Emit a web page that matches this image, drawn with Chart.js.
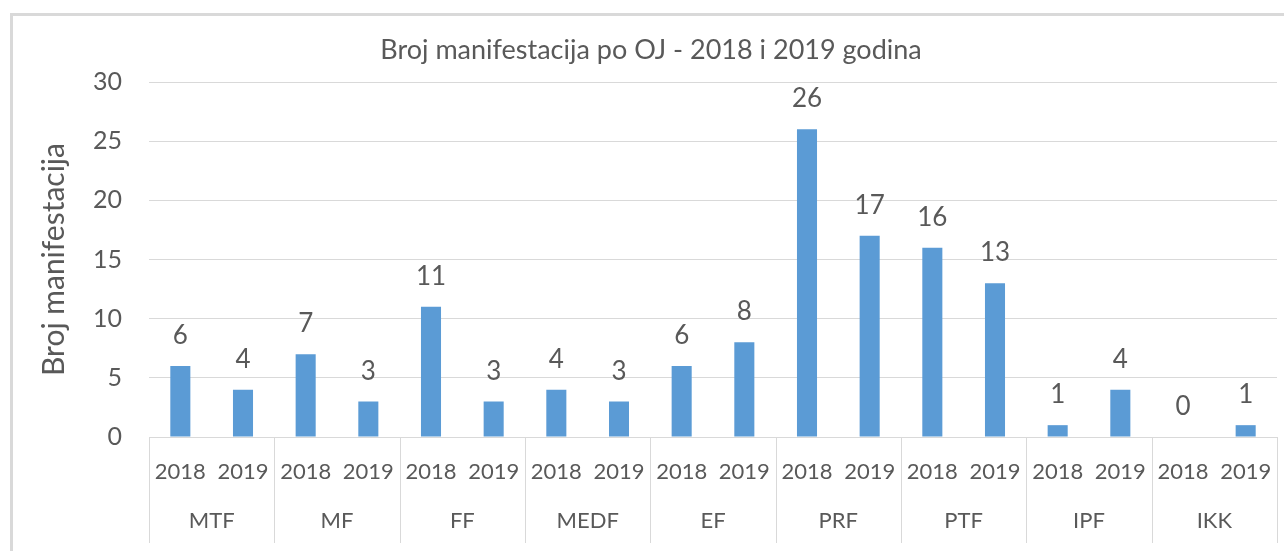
<!DOCTYPE html>
<html>
<head>
<meta charset="utf-8">
<script src="https://cdn.jsdelivr.net/npm/chart.js@4.4.1/dist/chart.umd.min.js"></script>
<style>
  html, body { margin: 0; padding: 0; background: #ffffff; }
  #wrap { position: relative; width: 1284px; height: 551px; }
</style>
</head>
<body>
<div id="wrap"><canvas id="c" width="1284" height="551"></canvas></div>
<script>
// ---- data ----
const groups = ["MTF", "MF", "FF", "MEDF", "EF", "PRF", "PTF", "IPF", "IKK"];
const years = ["2018", "2019"];
const values2018 = [6, 7, 11, 4, 6, 26, 16, 1, 0];
const values2019 = [4, 3, 3, 3, 8, 17, 13, 4, 1];
const yTicks = [0, 5, 10, 15, 20, 25, 30];
const chartTitle = "Broj manifestacija po OJ - 2018 i 2019 godina";
const yTitle = "Broj manifestacija";

// flatten into 18 categories (group x year)
const labels = [];
const values = [];
groups.forEach((g, i) => {
  labels.push(years[0]); values.push(values2018[i]);
  labels.push(years[1]); values.push(values2019[i]);
});

const FONT = "Lato, 'Open Sans', sans-serif";
const TEXT = "#595959";
const LINE = "#d9d9d9";

const decor = {
  id: "decor",
  beforeDraw(chart) {
    const ctx = chart.ctx;
    ctx.save();
    ctx.fillStyle = "#ffffff";
    ctx.fillRect(0, 0, chart.width, chart.height);
    ctx.strokeStyle = LINE;
    ctx.lineWidth = 3;
    ctx.beginPath();
    ctx.moveTo(11.5, chart.height + 5);
    ctx.lineTo(11.5, 14.5);
    ctx.lineTo(chart.width + 5, 14.5);
    ctx.stroke();
    ctx.restore();
  },
  afterDraw(chart) {
    const ctx = chart.ctx;
    const x = chart.scales.x;
    const area = chart.chartArea;
    ctx.save();
    // title
    ctx.fillStyle = TEXT;
    ctx.font = "27px " + FONT;
    ctx.textAlign = "center";
    ctx.textBaseline = "middle";
    ctx.fillText(chartTitle, 651, 50);
    // y title
    ctx.save();
    ctx.translate(54, (area.top + area.bottom) / 2);
    ctx.rotate(-Math.PI / 2);
    ctx.font = "30px " + FONT;
    ctx.fillText(yTitle, 0, 0);
    ctx.restore();
    // group separators and group labels
    ctx.strokeStyle = LINE;
    ctx.lineWidth = 1;
    const half = (x.getPixelForValue(1) - x.getPixelForValue(0)) / 2;
    for (let i = 0; i <= groups.length; i++) {
      const px = Math.round(x.getPixelForValue(i * 2) - half) + 0.5;
      ctx.beginPath();
      ctx.moveTo(px, area.bottom);
      ctx.lineTo(px, 543);
      ctx.stroke();
    }
    ctx.font = "22px " + FONT;
    groups.forEach((g, i) => {
      const cx = (x.getPixelForValue(i * 2) + x.getPixelForValue(i * 2 + 1)) / 2;
      ctx.fillText(g, cx, 521);
    });
    // data labels
    ctx.font = "26px " + FONT;
    ctx.textBaseline = "alphabetic";
    const meta = chart.getDatasetMeta(0);
    meta.data.forEach((bar, i) => {
      ctx.fillText(String(values[i]), bar.x, bar.y - 22);
    });
    ctx.restore();
  }
};

new Chart(document.getElementById("c"), {
  type: "bar",
  data: {
    labels: labels,
    datasets: [{
      data: values,
      backgroundColor: "#5b9bd5",
      borderWidth: 0,
      barPercentage: 0.32,
      categoryPercentage: 1.0
    }]
  },
  options: {
    responsive: false,
    animation: false,
    devicePixelRatio: 1,
    layout: { padding: { left: 0, right: 7, top: 82, bottom: 0 } },
    plugins: {
      legend: { display: false },
      title: { display: false },
      tooltip: { enabled: false }
    },
    scales: {
      x: {
        afterFit: s => { s.height = 551 - 437; s.paddingRight = 0; s.paddingLeft = 0; },
        grid: { display: false, drawTicks: false },
        border: { display: false },
        ticks: {
          color: TEXT,
          font: { family: FONT, size: 22 },
          padding: 22,
          autoSkip: false,
          maxRotation: 0,
          minRotation: 0
        }
      },
      y: {
        min: 0,
        max: 30,
        afterFit: s => { s.width = 149; },
        afterBuildTicks: s => { s.ticks = yTicks.map(v => ({ value: v })); },
        grid: { color: LINE, lineWidth: 1, drawTicks: false },
        border: { display: false },
        ticks: {
          color: TEXT,
          font: { family: FONT, size: 25 },
          padding: 27
        }
      }
    }
  },
  plugins: [decor]
});
</script>
</body>
</html>
